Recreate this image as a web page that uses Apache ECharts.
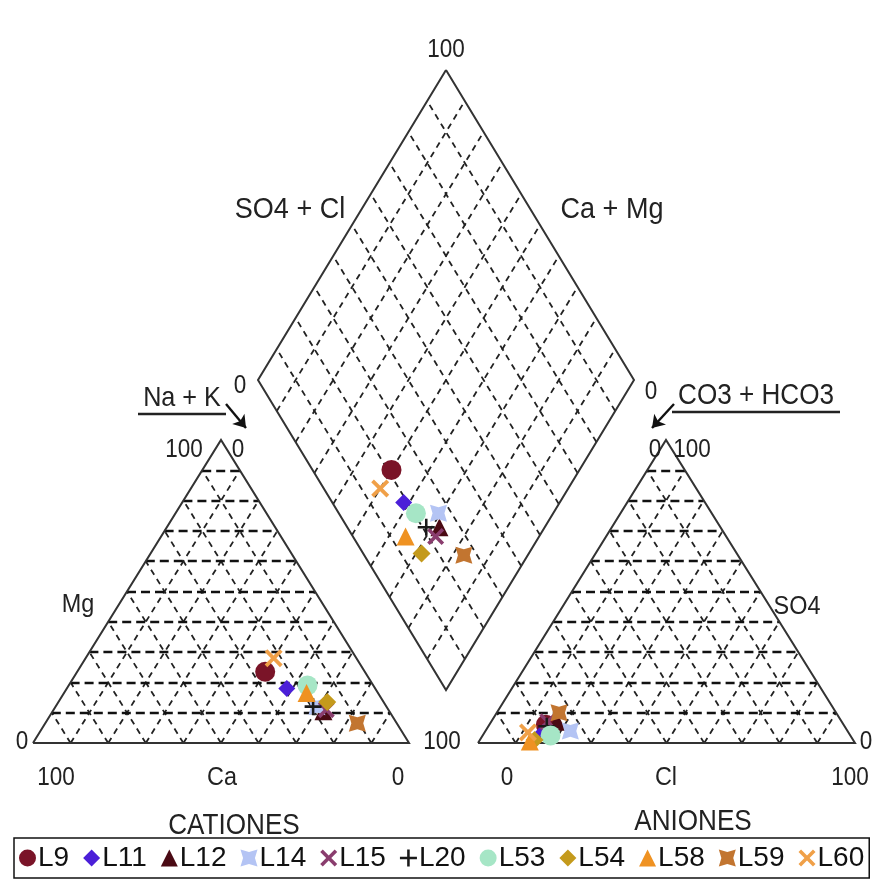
<!DOCTYPE html>
<html>
<head>
<meta charset="utf-8">
<script src="https://cdn.jsdelivr.net/npm/echarts@6/dist/echarts.min.js"></script>
<style>
  html, body { margin: 0; padding: 0; background: #fff; }
  #chart { width: 877px; height: 880px; }
</style>
</head>
<body>
<div id="chart"></div>
<script>
// muestras
var samples = ['L9', 'L11', 'L12', 'L14', 'L15', 'L20', 'L53', 'L54', 'L58', 'L59', 'L60']
// cationes (%)
var ca  = [26.5, 23.5, 17.5, 18.5, 16.5, 19.5, 17.5, 15, 19, 10.5, 22]
var mg  = [23.5, 18, 10.5, 12, 11, 12, 19, 13.5, 16.5, 6.5, 28]
var nak = [50, 58.5, 72, 69.5, 72.5, 68.5, 63.5, 71.5, 64.5, 83, 50]
// aniones (%)
var hco3 = [79, 81, 75.5, 73.5, 78, 79, 79.5, 84.5, 86, 73.5, 85]
var cl   = [15, 15.5, 17.5, 22.5, 15, 15.5, 18, 14.5, 13.5, 16.5, 11.5]
var so4  = [6, 3.5, 7, 4, 7, 5.5, 2.5, 1, 0.5, 10, 3.5]

var colors = ['#7a1428', '#4b1fd8', '#4a0a14', '#b4c4f4', '#8a3d6e', '#1a1a1a',
  '#a6e6c6', '#c49a1c', '#ef9222', '#c27530', '#f0a048']
var symX = 'path://M0,3 L3,0 L10,7 L17,0 L20,3 L13,10 L20,17 L17,20 L10,13 L3,20 L0,17 L7,10 Z'
var symPlus = 'path://M8.5,0 H11.5 V8.5 H20 V11.5 H11.5 V20 H8.5 V11.5 H0 V8.5 H8.5 Z'
var symBox = 'path://M0,0 L10,3 L20,0 L17,10 L20,20 L10,17 L0,20 L3,10 Z'
var symbols = ['circle', 'diamond', 'triangle', symBox, symX, symPlus, 'circle', 'diamond', 'triangle', symBox, symX]
var sizes = [20, 17, 18, 17, 17, 17, 20, 18, 18, 17, 18]

// geometria (coordenadas del lienzo)
var LT = { bl: [33, 743], br: [409, 743], top: [221, 440] }
var RT = { bl: [478, 743], br: [855, 743], top: [666, 440] }
var DM = { top: [446, 70], left: [258, 380], right: [634, 380], bottom: [446, 690] }

function lerp(p, q, t) {
  return [p[0] + (q[0] - p[0]) * t, p[1] + (q[1] - p[1]) * t]
}
function tern(T, wbl, wbr, wtop) {
  var s = wbl + wbr + wtop
  return [
    (wbl * T.bl[0] + wbr * T.br[0] + wtop * T.top[0]) / s,
    (wbl * T.bl[1] + wbr * T.br[1] + wtop * T.top[1]) / s
  ]
}
function diamond(a, s) {
  var B = DM.bottom
  return [
    B[0] + a * (DM.left[0] - B[0]) + s * (DM.right[0] - B[0]),
    B[1] + a * (DM.left[1] - B[1]) + s * (DM.right[1] - B[1])
  ]
}

// lineas de la rejilla
var hLines = [], dLines = [], outline = []
function triGrid(T) {
  for (var i = 1; i < 10; i++) {
    var f = i / 10
    hLines.push({ coords: [lerp(T.bl, T.top, f), lerp(T.br, T.top, f)] })
    dLines.push({ coords: [lerp(T.bl, T.br, f), lerp(T.br, T.top, 1 - f)] })
    dLines.push({ coords: [lerp(T.br, T.bl, f), lerp(T.bl, T.top, 1 - f)] })
  }
  outline.push({ coords: [T.bl, T.br, T.top, T.bl] })
}
triGrid(LT)
triGrid(RT)
for (var i = 1; i < 10; i++) {
  var f = i / 10
  dLines.push({ coords: [lerp(DM.bottom, DM.left, f), lerp(DM.right, DM.top, f)] })
  dLines.push({ coords: [lerp(DM.bottom, DM.right, f), lerp(DM.left, DM.top, f)] })
}
outline.push({ coords: [DM.top, DM.left, DM.bottom, DM.right, DM.top] })

var series = [
  {
    type: 'lines', coordinateSystem: 'cartesian2d', silent: true, z: 1,
    lineStyle: { color: '#222', width: 1.8, type: [6, 5], opacity: 1 },
    data: dLines
  },
  {
    type: 'lines', coordinateSystem: 'cartesian2d', silent: true, z: 1,
    lineStyle: { color: '#111', width: 2.4, type: [9, 5], opacity: 1 },
    data: hLines
  },
  {
    type: 'lines', coordinateSystem: 'cartesian2d', polyline: true, silent: true, z: 2,
    lineStyle: { color: '#333', width: 2, opacity: 1 },
    data: outline
  },
  {
    type: 'lines', coordinateSystem: 'cartesian2d', silent: true, z: 2,
    symbol: ['none', 'arrow'], symbolSize: 12,
    lineStyle: { color: '#111', width: 2.4, opacity: 1 },
    data: [
      { coords: [[226, 404], [246, 428]] },
      { coords: [[674, 404], [652, 428]] }
    ]
  }
]

samples.forEach(function (name, k) {
  series.push({
    name: name,
    type: 'scatter',
    z: 5,
    symbol: symbols[k],
    symbolSize: sizes[k],
    itemStyle: { color: colors[k], opacity: 1 },
    data: [
      tern(LT, ca[k], nak[k], mg[k]),
      tern(RT, hco3[k], cl[k], so4[k]),
      diamond((ca[k] + mg[k]) / 100, (cl[k] + so4[k]) / 100)
    ]
  })
})

var FONT = '"Liberation Sans Narrow", "Liberation Sans", Arial, sans-serif'
function txt(x, y, s, size) {
  return {
    type: 'text', x: x, y: y, z: 10, silent: true, scaleX: 0.9,
    style: { text: s, fill: '#222', font: (size || 25) + 'px ' + FONT, align: 'center', verticalAlign: 'middle' }
  }
}
var labels = [
  txt(446, 50, '100'),
  txt(290, 210, 'SO4 + Cl', 30),
  txt(612, 210, 'Ca + Mg', 30),
  txt(182, 398, 'Na + K', 28), txt(240, 386, '0'),
  txt(184, 450, '100'), txt(238, 450, '0'),
  txt(78, 605, 'Mg', 26),
  txt(22, 742, '0'), txt(56, 778, '100'),
  txt(222, 778, 'Ca', 26), txt(398, 778, '0'),
  txt(442, 742, '100'),
  txt(651, 392, '0'), txt(756, 396, 'CO3 + HCO3', 29),
  txt(655, 450, '0'), txt(692, 450, '100'),
  txt(797, 607, 'SO4', 26),
  txt(866, 742, '0'), txt(507, 778, '0'),
  txt(666, 778, 'Cl', 26), txt(850, 778, '100'),
  txt(234, 826, 'CATIONES', 29), txt(693, 822, 'ANIONES', 29),
  { type: 'line', silent: true, shape: { x1: 138, y1: 414, x2: 226, y2: 414 }, style: { stroke: '#222', lineWidth: 2.5 } },
  { type: 'line', silent: true, shape: { x1: 672, y1: 412, x2: 840, y2: 412 }, style: { stroke: '#222', lineWidth: 2.5 } }
]

var myChart = echarts.init(document.getElementById('chart'))
myChart.setOption({
  animation: false,
  grid: { left: 0, right: 0, top: 0, bottom: 0 },
  xAxis: { type: 'value', min: 0, max: 877, show: false },
  yAxis: { type: 'value', min: 0, max: 880, inverse: true, show: false },
  legend: {
    data: samples,
    left: 14, bottom: 2,
    itemWidth: 17, itemHeight: 17, itemGap: 14,
    borderColor: '#111', borderWidth: 1.5, padding: [6, 5],
    textStyle: { fontFamily: FONT, fontSize: 28, color: '#111', padding: [0, 0, 0, -3] }
  },
  graphic: labels,
  series: series
})
</script>
</body>
</html>
